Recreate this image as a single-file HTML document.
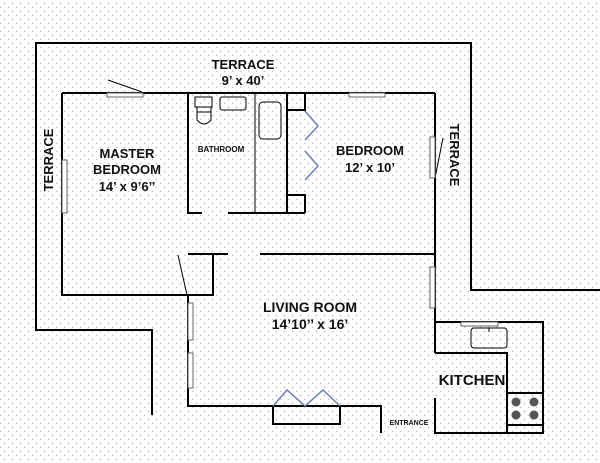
<!DOCTYPE html>
<html><head><style>
html,body{margin:0;padding:0}
body{width:600px;height:463px;overflow:hidden;background:#fff;
background-image:radial-gradient(circle at 4.5px 3.5px,#c4c4c4 0.7px,transparent 1px),radial-gradient(circle at 0.5px 7.5px,#c4c4c4 0.7px,transparent 1px);background-size:8px 8px}
svg{position:absolute;left:0;top:0}
text{font-family:"Liberation Sans",sans-serif;font-weight:bold;fill:#111}
</style></head><body>
<svg width="600" height="463" viewBox="0 0 600 463">
<g stroke="#000" stroke-width="2" fill="none">
<polyline points="152,415 152,330 36,330 36,43 471,43 471,290 600,290"/>
<polyline points="62,93 435,93"/>
<polyline points="62,93 62,295 213,295 213,254 188,254"/>
<line x1="228" y1="254" x2="188" y2="254"/>
<polyline points="260,254 435,254"/>
<line x1="435" y1="93" x2="435" y2="353"/>
<polyline points="202,213 188,213 188,93"/>
<line x1="228" y1="213" x2="305" y2="213"/>
<line x1="287" y1="93" x2="287" y2="213"/>
<polyline points="287,110 305,110 305,93"/>
<polyline points="287,195 305,195 305,213"/>
<polyline points="188,295 188,406 273,406"/>
<polyline points="340,406 381,406 381,433"/>
<rect x="273" y="406" width="67" height="18"/>
<polyline points="435,353 507,353 507,433"/>
<polyline points="435,322 543,322 543,433 435,433 435,398"/>
<line x1="507" y1="425" x2="543" y2="425"/>
<line x1="507" y1="393" x2="543" y2="393"/>
</g>
<g stroke="#000" stroke-width="1" fill="none">
<line x1="255" y1="93" x2="255" y2="213"/>
<rect x="259" y="102" width="22" height="37" rx="4"/>
<rect x="220" y="97" width="26" height="13" rx="2"/>
<rect x="195" y="97" width="17" height="10"/>
<path d="M197,107 L211,107 L211,120 Q204,128 197,120 Z"/>
<line x1="197" y1="112" x2="211" y2="112"/>
<rect x="471" y="328" width="36" height="20" rx="3"/>
<line x1="489" y1="328" x2="489" y2="332"/>
<line x1="108" y1="80" x2="142" y2="92"/>
<line x1="178" y1="255" x2="187" y2="295"/>
<line x1="443" y1="138" x2="435" y2="178"/>
</g>
<g stroke="#666" stroke-width="1" fill="#fff">
<rect x="107" y="93" width="36" height="4"/>
<rect x="349" y="93" width="36" height="4"/>
<rect x="62" y="160" width="5" height="53"/>
<rect x="430" y="137" width="5" height="41"/>
<rect x="188" y="303" width="5" height="37"/>
<rect x="188" y="353" width="5" height="35"/>
<rect x="430" y="267" width="5" height="41"/>
<rect x="461" y="322" width="37" height="4"/>
</g>
<g stroke="#6b7fbf" stroke-width="1.5" fill="none">
<polyline points="305,111 318,126 305,140"/>
<polyline points="305,151 318,166 305,180"/>
<polyline points="273,406 287,390 305,406 323,390 340,406"/>
</g>
<g fill="#555">
<circle cx="516" cy="402" r="4.5"/><circle cx="534" cy="402" r="4.5"/>
<circle cx="516" cy="415" r="4.5"/><circle cx="534" cy="415" r="4.5"/>
</g>
<text x="243" y="69" font-size="13" text-anchor="middle">TERRACE</text>
<text x="243" y="85" font-size="13" text-anchor="middle">9’ x 40’</text>
<text x="127" y="158" font-size="13" text-anchor="middle">MASTER</text>
<text x="127" y="174" font-size="13" text-anchor="middle">BEDROOM</text>
<text x="127" y="191" font-size="13" text-anchor="middle">14’ x 9’6’’</text>
<text x="221" y="152" font-size="8" text-anchor="middle">BATHROOM</text>
<text x="370" y="155" font-size="13" text-anchor="middle">BEDROOM</text>
<text x="370" y="172" font-size="13" text-anchor="middle">12’ x 10’</text>
<text x="310" y="312" font-size="14" text-anchor="middle">LIVING ROOM</text>
<text x="310" y="329" font-size="14" text-anchor="middle">14’10’’ x 16’</text>
<text x="472" y="385" font-size="15" text-anchor="middle">KITCHEN</text>
<text x="409" y="425" font-size="7" text-anchor="middle">ENTRANCE</text>
<text transform="translate(53,160) rotate(-90)" font-size="13" text-anchor="middle">TERRACE</text>
<text transform="translate(450,155) rotate(90)" font-size="13" text-anchor="middle">TERRACE</text>
</svg>
</body></html>
